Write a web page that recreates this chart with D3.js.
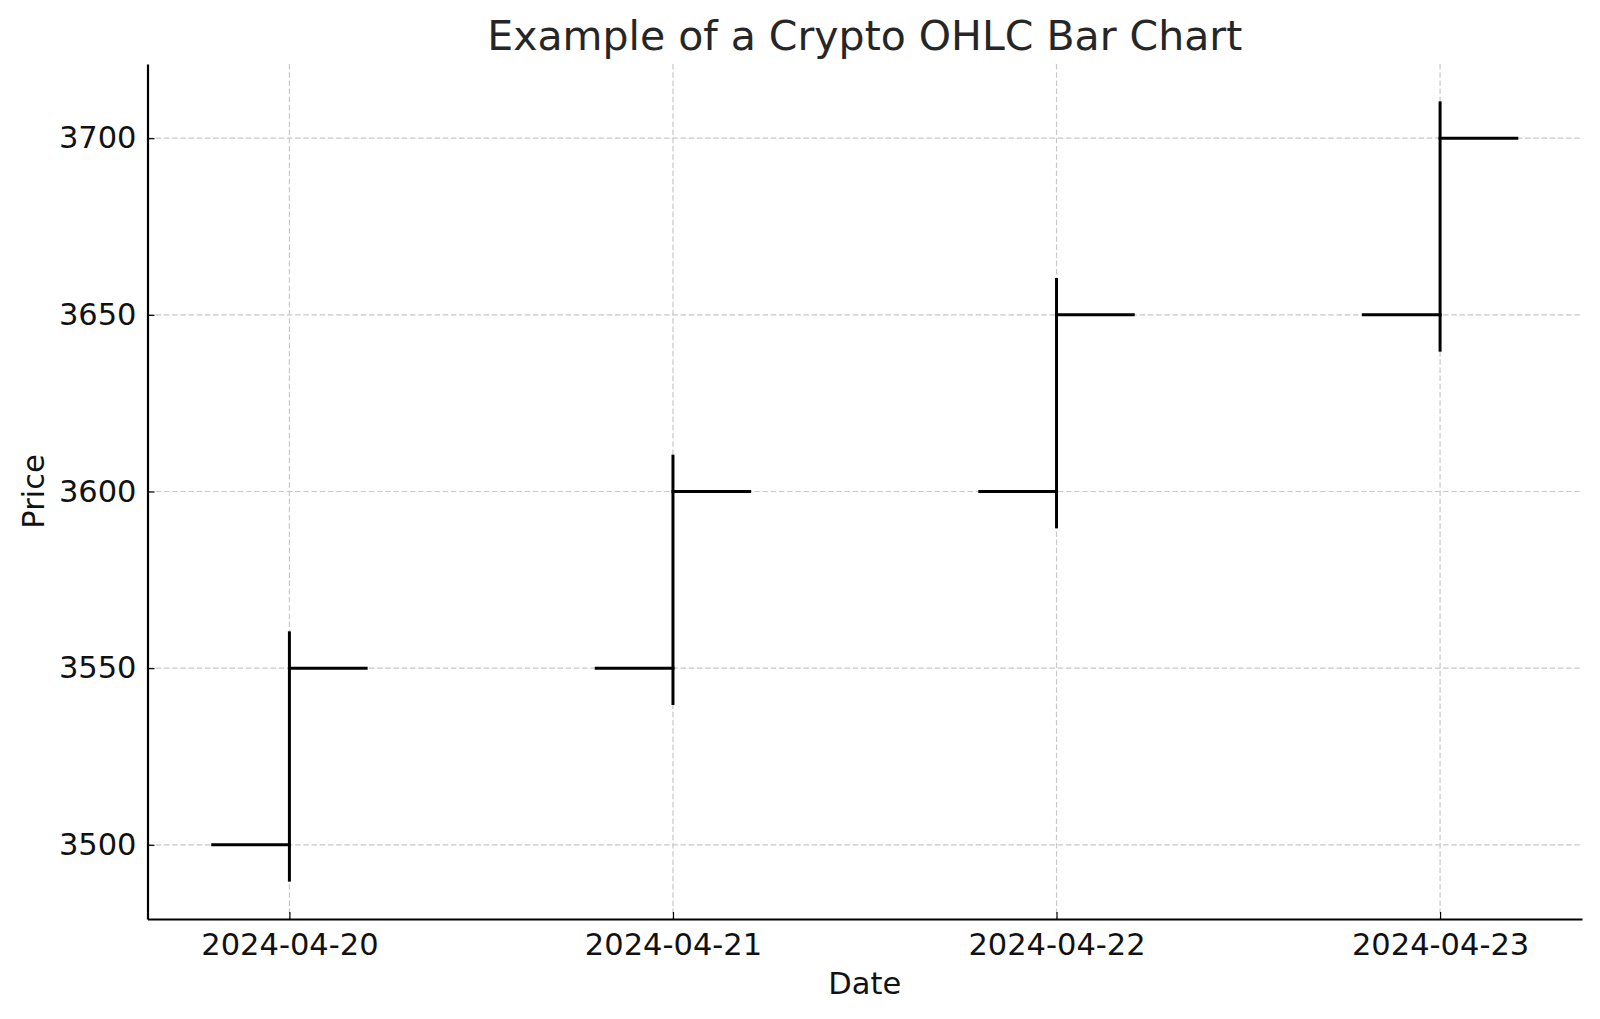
<!DOCTYPE html>
<html>
<head>
<meta charset="utf-8">
<script src="https://cdn.jsdelivr.net/npm/d3@7"></script>
<style>
  html, body { margin: 0; padding: 0; background: #fff; }
  svg { display: block; font-family: "DejaVu Sans", sans-serif; }
</style>
</head>
<body>
<svg id="chart"></svg>
<script>
// OHLC data
const dates = ["2024-04-20", "2024-04-21", "2024-04-22", "2024-04-23"];
const openPrices = [3500, 3550, 3600, 3650];
const highPrices = [3560, 3610, 3660, 3710];
const lowPrices = [3490, 3540, 3590, 3640];
const closePrices = [3550, 3600, 3650, 3700];
const priceTicks = [3500, 3550, 3600, 3650, 3700];

const width = 1600;
const height = 1019;
const margin = { top: 64, right: 18, bottom: 100, left: 147.5 };
const tickWidth = 0.2; // days, length of open/close ticks

const svg = d3.select("#chart").attr("width", width).attr("height", height);

// matplotlib-like 5% padding around the data
const xMin = -tickWidth, xMax = dates.length - 1 + tickWidth;
const xPad = (xMax - xMin) * 0.05;
const x = d3.scaleLinear()
  .domain([xMin - xPad, xMax + xPad])
  .range([margin.left, width - margin.right]);

const yMin = d3.min(lowPrices), yMax = d3.max(highPrices);
const yPad = (yMax - yMin) * 0.05;
const y = d3.scaleLinear()
  .domain([yMin - yPad, yMax + yPad])
  .range([height - margin.bottom, margin.top]);

const plotBottom = height - margin.bottom;

// grid
const grid = svg.append("g")
  .attr("stroke", "#c8c8c8")
  .attr("stroke-width", 1.2)
  .attr("stroke-dasharray", "5.5,2.7");

grid.selectAll(".gx").data(dates).enter().append("line")
  .attr("x1", (d, i) => x(i)).attr("x2", (d, i) => x(i))
  .attr("y1", margin.top).attr("y2", plotBottom);

grid.selectAll(".gy").data(priceTicks).enter().append("line")
  .attr("x1", margin.left).attr("x2", width - margin.right)
  .attr("y1", d => y(d)).attr("y2", d => y(d));

// axes
const xAxis = d3.axisBottom(x)
  .tickValues(d3.range(dates.length))
  .tickFormat(i => dates[i])
  .tickSizeInner(-7).tickSizeOuter(0).tickPadding(14);

const yAxis = d3.axisLeft(y)
  .tickValues(priceTicks)
  .tickFormat(d3.format("d"))
  .tickSizeInner(-7).tickSizeOuter(0).tickPadding(11);

const gx = svg.append("g")
  .attr("transform", `translate(0,${plotBottom})`)
  .call(xAxis);

const gy = svg.append("g")
  .attr("transform", `translate(${margin.left},0)`)
  .call(yAxis);

[gx, gy].forEach(g => {
  g.select(".domain").attr("stroke", "#000").attr("stroke-width", 2.2);
  g.selectAll(".tick line").attr("stroke", "#000").attr("stroke-width", 1.2);
  g.selectAll(".tick text")
    .attr("fill", "#111")
    .style("font-size", "30.5px")
    .style("font-family", "'DejaVu Sans', sans-serif");
});

// OHLC bars
const bars = svg.append("g")
  .attr("stroke", "#000")
  .attr("stroke-width", 3)
  .attr("stroke-linecap", "square");

const bar = bars.selectAll(".ohlc").data(dates).enter().append("g").attr("class", "ohlc");

bar.append("line")
  .attr("x1", (d, i) => x(i)).attr("x2", (d, i) => x(i))
  .attr("y1", (d, i) => y(lowPrices[i])).attr("y2", (d, i) => y(highPrices[i]));

bar.append("line")
  .attr("x1", (d, i) => x(i - tickWidth)).attr("x2", (d, i) => x(i))
  .attr("y1", (d, i) => y(openPrices[i])).attr("y2", (d, i) => y(openPrices[i]));

bar.append("line")
  .attr("x1", (d, i) => x(i)).attr("x2", (d, i) => x(i + tickWidth))
  .attr("y1", (d, i) => y(closePrices[i])).attr("y2", (d, i) => y(closePrices[i]));

// titles
const plotCenterX = (margin.left + width - margin.right) / 2;

svg.append("text")
  .attr("x", plotCenterX).attr("y", 50)
  .attr("text-anchor", "middle")
  .attr("fill", "#262626")
  .style("font-size", "41px")
  .text("Example of a Crypto OHLC Bar Chart");

svg.append("text")
  .attr("x", plotCenterX).attr("y", 994)
  .attr("text-anchor", "middle")
  .attr("fill", "#111")
  .style("font-size", "30.5px")
  .text("Date");

svg.append("text")
  .attr("transform", `translate(44,${(margin.top + plotBottom) / 2}) rotate(-90)`)
  .attr("text-anchor", "middle")
  .attr("fill", "#111")
  .style("font-size", "30.5px")
  .text("Price");
</script>
</body>
</html>
